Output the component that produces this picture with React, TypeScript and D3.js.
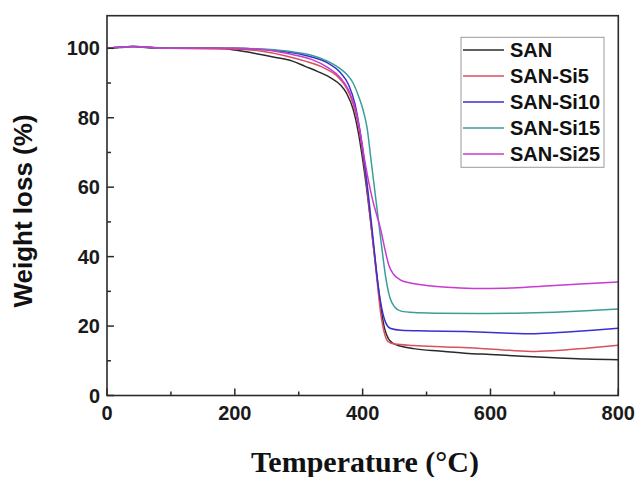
import React from "react";
import * as d3 from "d3";

const seriesNames = ["SAN", "SAN-Si5", "SAN-Si10", "SAN-Si15", "SAN-Si25"];
const seriesColors = ["#2a2a2a", "#d9505e", "#3b2fd0", "#3a9e98", "#c83ad0"];

const sanData: [number, number][] = [[0,100],[20,100.2],[40,100.5],[70,100.1],[120,100],[170,100],[200,99.5],[230,98.6],[260,97.5],[290,96.3],[310,94.8],[330,93.3],[350,91.5],[365,89.5],[375,87],[385,82.5],[393,76],[400,68],[408,57],[415,46],[422,35],[428,26],[434,19.5],[440,16.5],[448,15],[460,14.2],[480,13.5],[520,12.8],[560,12.2],[600,11.8],[650,11.3],[700,10.9],[750,10.5],[800,10.3]];
const si5Data: [number, number][] = [[0,100],[40,100.5],[100,100],[200,99.8],[240,99.2],[280,97.8],[310,96.3],[340,94.3],[360,92],[375,88.5],[385,84],[393,78],[400,70],[408,58],[415,46],[422,34],[428,24],[434,18],[440,15.5],[450,14.8],[480,14.4],[530,14],[580,13.6],[630,13],[670,12.7],[710,13],[750,13.6],[800,14.5]];
const si10Data: [number, number][] = [[0,100],[40,100.5],[100,100],[200,100],[250,99.6],[290,98.7],[320,97.5],[345,95.8],[365,93],[378,89.5],[388,84],[396,76],[403,67],[410,56],[417,44],[424,32],[430,25],[436,21],[444,19.3],[460,18.8],[500,18.6],[560,18.4],[620,18],[670,17.8],[720,18.3],[760,18.8],[800,19.4]];
const si15Data: [number, number][] = [[0,100],[40,100.5],[100,100],[200,100],[250,99.7],[290,99],[320,98],[345,96.3],[362,94.5],[375,92.5],[385,90],[394,86],[401,82],[407,77],[413,68],[419,59],[425,50],[431,41],[437,33],[443,28],[450,25.5],[460,24.3],[480,23.9],[520,23.7],[580,23.6],[640,23.7],[700,24],[750,24.4],[800,24.9]];
const si25Data: [number, number][] = [[0,100],[40,100.5],[100,100],[200,100],[250,99.5],[290,98.2],[320,96.8],[345,94.5],[365,91.5],[378,88],[388,83],[396,76],[403,68],[410,61],[416,56],[422,52],[428,48],[435,42],[441,37.5],[448,35],[458,33.4],[475,32.4],[500,31.7],[540,31.1],[580,30.8],[620,30.9],[680,31.5],[740,32.1],[800,32.7]];

const allSeries = [sanData, si5Data, si10Data, si15Data, si25Data];

const xMajorTicks = [0, 200, 400, 600, 800];
const xMinorTicks = [100, 300, 500, 700];
const yMajorTicks = [0, 20, 40, 60, 80, 100];
const yMinorTicks = [10, 30, 50, 70, 90];

const xTitle = "Temperature (°C)";
const yTitle = "Weight loss (%)";

export default function App() {
  const W = 637, H = 477;
  const left = 107, right = 618.3, bottom = 395.5, top = 15.7;
  const x = d3.scaleLinear().domain([0, 800]).range([left, right]);
  const y = d3.scaleLinear().domain([0, 100]).range([bottom, 48.3]);
  const line = d3.line<[number, number]>()
    .x(d => x(d[0]))
    .y(d => y(d[1]))
    .curve(d3.curveMonotoneX);
  const sans = "'Liberation Sans', Arial, sans-serif";
  const serif = "'Liberation Serif', 'Times New Roman', serif";
  const legendX = 461, legendY = 37.3, legendW = 143, legendH = 130;
  const legendRow0 = 50, legendStep = 26;
  return (
    <svg width={W} height={H} style={{ position: "absolute", left: 0, top: 0, background: "#fff" }}>
      <rect x={0} y={0} width={W} height={H} fill="#fff" />
      <defs>
        <clipPath id="plotclip">
          <rect x={left} y={top} width={right - left} height={bottom - top} />
        </clipPath>
      </defs>
      <g clipPath="url(#plotclip)">
        {allSeries.map((s, i) => (
          <path key={i} d={line(s) || ""} fill="none" stroke={seriesColors[i]} strokeWidth={1.5} />
        ))}
      </g>
      <rect x={left} y={top} width={right - left} height={bottom - top} fill="none" stroke="#2b2b2b" strokeWidth={1.6} />
      {xMajorTicks.map(t => (
        <line key={"xM" + t} x1={x(t)} x2={x(t)} y1={bottom} y2={bottom - 7} stroke="#2b2b2b" strokeWidth={1.5} />
      ))}
      {xMinorTicks.map(t => (
        <line key={"xm" + t} x1={x(t)} x2={x(t)} y1={bottom} y2={bottom - 4} stroke="#2b2b2b" strokeWidth={1.5} />
      ))}
      {yMajorTicks.map(t => (
        <line key={"yM" + t} x1={left} x2={left + 7} y1={y(t)} y2={y(t)} stroke="#2b2b2b" strokeWidth={1.5} />
      ))}
      {yMinorTicks.map(t => (
        <line key={"ym" + t} x1={left} x2={left + 4} y1={y(t)} y2={y(t)} stroke="#2b2b2b" strokeWidth={1.5} />
      ))}
      {xMajorTicks.map(t => (
        <text key={"xl" + t} x={x(t)} y={420} textAnchor="middle" fontFamily={sans} fontWeight="bold" fontSize={20} fill="#1a1a1a">{t}</text>
      ))}
      {yMajorTicks.map(t => (
        <text key={"yl" + t} x={100} y={y(t) + 7} textAnchor="end" fontFamily={sans} fontWeight="bold" fontSize={20} fill="#1a1a1a">{t}</text>
      ))}
      <text x={365} y={472} textAnchor="middle" fontFamily={serif} fontWeight="bold" fontSize={30} fill="#111">{xTitle}</text>
      <text transform={`translate(32, 211) rotate(-90)`} textAnchor="middle" fontFamily={sans} fontWeight="bold" fontSize={26} fill="#111">{yTitle}</text>
      <rect x={legendX} y={legendY} width={legendW} height={legendH} fill="#fff" stroke="#9a9a9a" strokeWidth={1} />
      {seriesNames.map((n, i) => (
        <g key={n}>
          <line x1={463} x2={504} y1={legendRow0 + i * legendStep} y2={legendRow0 + i * legendStep} stroke={seriesColors[i]} strokeWidth={1.5} />
          <text x={510} y={legendRow0 + i * legendStep + 7} fontFamily={sans} fontWeight="bold" fontSize={20} fill="#111">{n}</text>
        </g>
      ))}
    </svg>
  );
}
